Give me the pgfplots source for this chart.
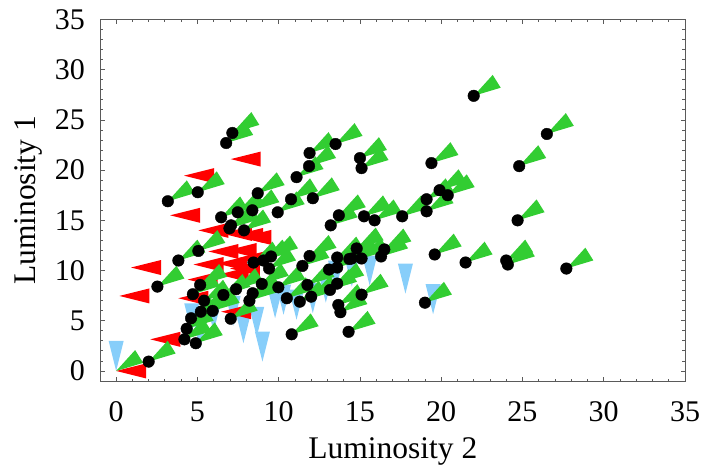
\documentclass[border=0pt]{standalone}
\usepackage{fontspec}
\setmainfont{Liberation Serif}
\usepackage{pgfplots}
\pgfplotsset{compat=1.18}

\definecolor{framegray}{RGB}{90,90,90}
\definecolor{wedgegreen}{RGB}{50,205,50}
\definecolor{limred}{RGB}{255,0,0}
\definecolor{limblue}{RGB}{135,206,250}

% markers: apex at the data point, body pointing away
\pgfdeclareplotmark{wedge}{%
  \pgfpathmoveto{\pgfpointorigin}%
  \pgfpathlineto{\pgfpoint{19pt}{20.9pt}}%
  \pgfpathlineto{\pgfpoint{27pt}{8.1pt}}%
  \pgfpathclose\pgfusepathqfill}
\pgfdeclareplotmark{lefttri}{%
  \pgfpathmoveto{\pgfpointorigin}%
  \pgfpathlineto{\pgfpoint{30pt}{7.5pt}}%
  \pgfpathlineto{\pgfpoint{30pt}{-7.5pt}}%
  \pgfpathclose\pgfusepathqfill}
\pgfdeclareplotmark{downtri}{%
  \pgfpathmoveto{\pgfpointorigin}%
  \pgfpathlineto{\pgfpoint{-7.5pt}{30pt}}%
  \pgfpathlineto{\pgfpoint{7.5pt}{30pt}}%
  \pgfpathclose\pgfusepathqfill}

\pgfplotstableread{
x y
22.0 27.4
26.5 23.6
24.8 20.4
24.7 15.0
24.0 11.0
24.1 10.6
27.7 10.2
21.5 10.8
19.6 11.6
19.0 6.8
19.4 20.7
15.0 21.2
15.1 20.2
19.1 17.1
19.1 15.9
19.9 18.0
20.4 17.5
17.6 15.4
15.25 15.4
15.9 15.0
14.8 12.2
15.1 11.2
14.5 11.2
16.5 12.1
16.3 11.4
15.1 7.6
14.3 3.9
3.18 16.9
5.02 17.8
8.71 17.7
10.76 17.1
12.1 17.2
11.1 19.3
11.9 21.7
11.87 20.4
13.5 22.6
7.15 23.7
6.77 22.7
6.46 15.3
7.48 15.8
8.38 16.0
9.94 15.8
7.07 14.5
6.97 14.2
7.87 14.0
13.2 14.5
13.7 15.5
5.06 11.95
3.83 11.0
2.54 8.4
8.45 10.8
9.06 11.0
9.53 11.4
9.41 10.2
11.9 11.45
11.46 10.46
13.1 10.1
13.6 10.3
13.6 11.3
14.35 11.15
5.17 8.57
4.72 7.64
5.41 7.0
5.21 5.9
5.94 5.98
6.6 7.57
7.38 8.14
8.4 7.74
8.2 7.0
8.96 8.67
9.98 8.33
10.5 7.24
11.3 6.9
11.77 8.57
12.0 7.4
13.16 8.07
13.6 8.7
13.67 6.57
13.8 5.85
10.8 3.65
7.05 5.2
4.61 5.25
4.34 4.2
4.2 3.15
4.9 2.76
2.0 0.93
}\dots

\pgfplotstableread{
x y
0 0
}\extrawedge

\pgfplotstableread{
x y
0 0
7.05 21.1
4.18 19.45
3.32 15.5
5.06 14.0
6.5 13.7
7.2 13.5
7.7 13.3
5.68 11.9
6.8 12.0
0.92 10.3
4.76 10.6
6.2 10.7
7.4 11.2
7.0 10.2
6.3 9.6
0.2 7.47
4.4 9.1
3.83 7.24
2.1 3.15
6.46 5.9
}\reds

\pgfplotstableread{
x y
0 0
4.65 3.75
5.17 2.26
6.0 3.9
7.2 4.5
7.83 2.75
9.0 0.93
8.65 3.4
9.78 5.25
10.3 5.6
11.1 5.1
12.1 5.75
12.9 6.8
13.5 8.0
14.5 8.4
15.6 8.5
17.8 7.7
19.5 5.65
}\blues

\begin{document}
\begin{tikzpicture}
\begin{axis}[
    scale only axis,
    width=584.3pt, height=362pt,
    xmin=-0.95, xmax=35, ymin=-1.05, ymax=35,
    xtick={0,5,...,35}, ytick={0,5,...,35},
    minor x tick num=4, minor y tick num=4,
    tick align=inside,
    major tick length=4.5pt, minor tick length=2.7pt,
    axis line style={draw=framegray, line width=1pt},
    every tick/.style={draw=framegray, line width=0.8pt},
    /pgf/number format/assume math mode=true,
    ticklabel style={font=\fontsize{30}{31}\selectfont, inner sep=0pt},
    xticklabel style={anchor=north, yshift=-20pt},
    yticklabel style={anchor=east, xshift=-15.5pt},
    label style={font=\fontsize{31.5}{32}\selectfont, inner sep=0pt},
    xlabel={Luminosity 2},
    ylabel={Luminosity 1},
    xlabel style={at={(axis description cs:0.5,-0.214)}, anchor=base},
    ylabel style={at={(axis description cs:-0.1124,0.5)}, anchor=base, rotate=0},
    clip=false,
]
\addplot[only marks, mark=downtri, color=limblue] table {\blues};
\addplot[only marks, mark=lefttri, color=limred] table {\reds};
\addplot[only marks, mark=wedge, color=wedgegreen] table {\dots};
\addplot[only marks, mark=wedge, color=wedgegreen] table {\extrawedge};
\addplot[only marks, mark=*, mark size=5.8pt, color=black] table {\dots};
\end{axis}
\pgfresetboundingbox
\useasboundingbox (current axis.south west) ++(-100.7pt,-90.5pt)
  rectangle ([shift={(19pt,19.5pt)}]current axis.north east);
\end{tikzpicture}
\end{document}
